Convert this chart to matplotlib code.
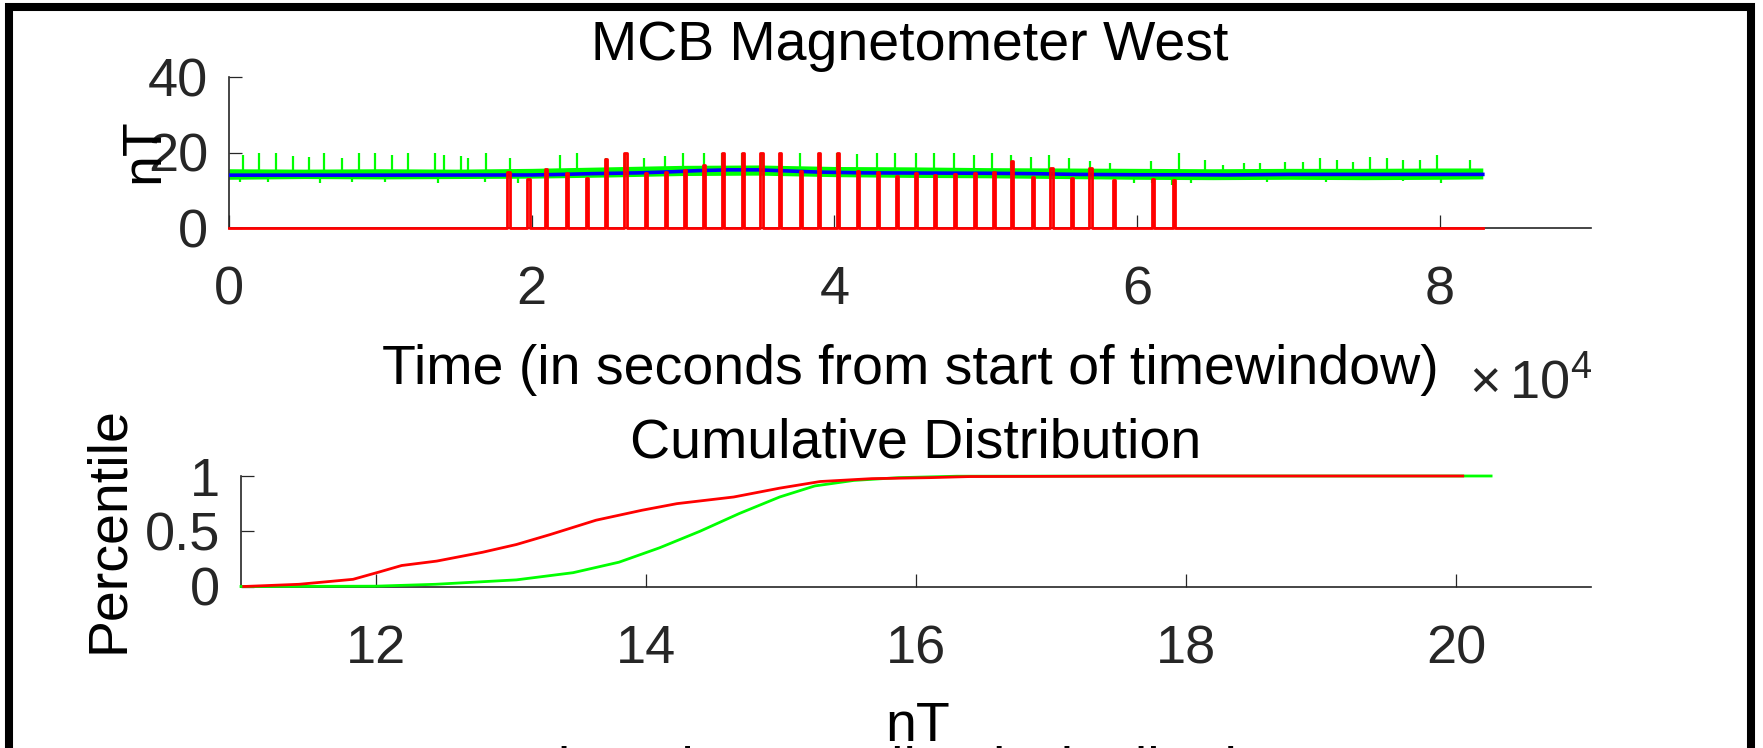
import matplotlib
matplotlib.use("Agg")
import matplotlib.pyplot as plt
from matplotlib.patches import Rectangle

plt.rcParams['font.family'] = ['Liberation Sans', 'DejaVu Sans']
plt.rcParams['mathtext.fontset'] = 'custom'
plt.rcParams['mathtext.rm'] = 'Liberation Sans'

# ---- top panel: magnetometer field (time in seconds, field in nT) ----
record_end = 82850.0

trend_t = [0, 10000, 20000, 22000, 24000, 27000, 29000, 31000, 33000, 35000, 37000,
           39000, 42000, 46000, 50000, 53000, 56000, 60000, 63000, 66000, 70000,
           75000, 80000, 82850]
trend_nt = [14.0, 14.0, 14.05, 14.2, 14.4, 14.6, 14.85, 15.2, 15.4, 15.4, 15.1,
            14.8, 14.6, 14.55, 14.5, 14.4, 14.2, 14.1, 14.1, 14.05, 14.2,
            14.2, 14.2, 14.2]

band_t = [0, 5000, 10000, 15000, 20000, 25000, 30000, 35000, 40000, 45000,
          50000, 55000, 60000, 65000, 70000, 75000, 80000, 82850]
band_hi = [15.7, 15.6, 15.7, 15.6, 15.8, 16.2, 16.6, 16.7, 16.3, 16.2,
           16.0, 15.9, 15.8, 15.7, 15.8, 15.8, 15.9, 15.9]
band_lo = [12.9, 13.1, 13.0, 13.1, 13.2, 13.5, 13.9, 14.0, 13.6, 13.4,
           13.3, 13.1, 12.9, 12.8, 12.9, 12.8, 12.9, 13.0]

spike_t = [950, 2000, 3100, 4200, 5260, 6300, 7460, 8560, 9650, 10760, 11800,
           13600, 14200, 15300, 15800, 17000, 18600, 21900, 23000, 24900, 26200,
           27400, 28800, 30000, 31400, 32600, 33900, 35200, 36400, 37700, 39000,
           40200, 41500, 42800, 44000, 45400, 46600, 47900, 49200, 50400, 51700,
           53000, 54200, 55500, 56900, 58200, 60900, 62800, 64500, 65700, 67100,
           68100, 69800, 71000, 72100, 73200, 74300, 75400, 76500, 77600, 78700,
           79800, 82000]
spike_nt = [19.3, 20.0, 19.8, 19.2, 18.9, 19.8, 18.6, 20.0, 19.8, 19.3, 20.0,
            20.0, 19.3, 19.2, 18.5, 20.0, 18.6, 19.3, 20.0, 18.5, 20.0,
            18.5, 19.1, 19.8, 19.8, 20.0, 19.8, 20.0, 20.0, 19.8, 20.0,
            20.0, 19.5, 20.0, 20.0, 19.8, 19.8, 20.0, 19.3, 20.0, 19.3,
            18.9, 19.3, 18.5, 17.7, 17.1, 17.7, 20.0, 18.0, 16.7, 17.1,
            17.1, 17.4, 17.6, 18.5, 18.0, 17.6, 18.9, 18.5, 18.0, 18.0,
            19.3, 18.0]

dip_t = [730, 2600, 6000, 8100, 10300, 13800, 16900, 19100, 37800, 55700,
         59800, 61000, 62300, 63600, 66200, 68600, 72500, 77600, 80100]
dip_nt = [12.3, 12.3, 12.0, 12.3, 12.3, 11.8, 12.3, 12.0, 12.7, 11.8,
          11.8, 11.8, 11.4, 12.0, 12.7, 12.3, 12.3, 12.5, 12.0]

event_t = [18470, 19790, 20940, 22330, 23650, 24930, 26200, 27550, 28870, 30150,
           31400, 32640, 33940, 35190, 36430, 37770, 39010, 40250, 41590, 42860,
           44150, 45400, 46680, 48000, 49280, 50530, 51750, 53110, 54350, 55710,
           56930, 58470, 61040, 62430]
event_nt = [14.9, 12.9, 15.5, 14.6, 13.2, 18.3, 19.9, 14.5, 14.9, 15.4,
            16.7, 19.9, 19.9, 19.9, 19.9, 15.0, 19.9, 19.9, 15.0, 14.9,
            13.8, 14.5, 14.0, 14.2, 14.6, 14.9, 17.8, 13.6, 15.8, 13.2,
            15.8, 12.7, 12.9, 12.6]

top_xticks = [0, 20000, 40000, 60000, 80000]
top_xtick_labels = ['0', '2', '4', '6', '8']
top_yticks = [0, 20, 40]

# ---- bottom panel: cumulative distributions ----
green_cdf_x = [11.0, 12.0, 12.44, 13.04, 13.46, 13.80, 14.10, 14.40, 14.69, 14.99,
               15.25, 15.54, 15.87, 16.3, 18.0, 20.26]
green_cdf_y = [0.0, 0.003, 0.02, 0.06, 0.125, 0.22, 0.35, 0.50, 0.66, 0.81,
               0.91, 0.96, 0.985, 0.998, 1.0, 1.0]
red_cdf_x = [11.02, 11.43, 11.83, 12.02, 12.19, 12.45, 12.79, 13.04, 13.29, 13.63,
             13.97, 14.23, 14.65, 14.99, 15.29, 15.67, 16.1, 16.4, 18.0, 20.05]
red_cdf_y = [0.0, 0.02, 0.065, 0.13, 0.19, 0.23, 0.31, 0.38, 0.47, 0.60,
             0.69, 0.75, 0.81, 0.89, 0.95, 0.976, 0.985, 0.995, 1.0, 1.0]

bot_xticks = [12, 14, 16, 18, 20]
bot_yticks = [0, 0.5, 1]
bot_ytick_labels = ['0', '0.5', '1']

W, H = 1763, 748
fig = plt.figure(figsize=(W / 100, H / 100), dpi=100)
fig.patch.set_facecolor('white')

AX_COL = '#262626'
GREEN = '#00ff00'
BLUE = '#0000ff'
RED = '#ff0000'
TICK_FS = 39
LAB_FS = 40


def style_axes(ax):
    for s in ['top', 'right']:
        ax.spines[s].set_visible(False)
    for s in ['left', 'bottom']:
        ax.spines[s].set_color(AX_COL)
        ax.spines[s].set_linewidth(1.2)
    ax.tick_params(direction='in', length=9.4, width=0.9, color=AX_COL,
                   labelcolor=AX_COL, labelsize=TICK_FS)
    ax.tick_params(axis='x', pad=27)
    ax.tick_params(axis='y', pad=15)
    ax.set_facecolor('none')


# top axes
ax1 = fig.add_axes([229 / W, 1 - 228 / H, 1362 / W, 151 / H])
style_axes(ax1)
ax1.fill_between(band_t, band_lo, band_hi, color=GREEN, lw=0, zorder=2)
ax1.vlines(spike_t, 15.0, spike_nt, color=GREEN, lw=1.6, zorder=2)
ax1.vlines(dip_t, 13.5, dip_nt, color=GREEN, lw=1.6, zorder=2)
ax1.plot(trend_t, trend_nt, color=BLUE, lw=2.6, zorder=3)

ev_x = [0.0]
ev_y = [0.0]
for t, v in zip(event_t, event_nt):
    ev_x += [t - 70, t - 70, t + 70, t + 70]
    ev_y += [0, v, v, 0]
ev_x.append(record_end)
ev_y.append(0.0)
ax1.plot(ev_x, ev_y, color=RED, lw=2.0, zorder=4, clip_on=False)

ax1.set_xlim(0, 90000)
ax1.set_ylim(0, 40)
ax1.set_xticks(top_xticks)
ax1.set_xticklabels(top_xtick_labels)
ax1.set_yticks(top_yticks)

# bottom axes
ax2 = fig.add_axes([241 / W, 1 - 586.5 / H, 1350 / W, 110.5 / H])
style_axes(ax2)
ax2.plot(green_cdf_x, green_cdf_y, color=GREEN, lw=2.0, clip_on=False, zorder=3)
ax2.plot(red_cdf_x, red_cdf_y, color=RED, lw=2.0, clip_on=False, zorder=4)
ax2.set_xlim(11, 21)
ax2.set_ylim(0, 1)
ax2.set_xticks(bot_xticks)
ax2.set_yticks(bot_yticks)
ax2.set_yticklabels(bot_ytick_labels)

# titles and labels placed like the MATLAB layout
fig.text(910 / W, 1 - 60 / H, 'MCB Magnetometer West', ha='center', va='baseline',
         fontsize=LAB_FS, color='black')
fig.text(910 / W, 1 - 384 / H, 'Time (in seconds from start of timewindow)',
         ha='center', va='baseline', fontsize=LAB_FS, color='black')
fig.text(1469 / W, 1 - 398 / H, r'$\times\,10^{4}$', ha='left', va='baseline',
         fontsize=TICK_FS, color=AX_COL)
fig.text(158 / W, 1 - 151 / H, 'nT', rotation=90, rotation_mode='anchor',
         ha='center', va='baseline', fontsize=LAB_FS, color='black')

fig.text(916 / W, 1 - 458 / H, 'Cumulative Distribution', ha='center', va='baseline',
         fontsize=LAB_FS, color='black')
fig.text(123 / W, 1 - 530 / H, 'Percentile', rotation=90, rotation_mode='anchor',
         ha='center', va='baseline', fontsize=LAB_FS, color='black')
fig.text(918 / W, 1 - 741 / H, 'nT', ha='center', va='baseline',
         fontsize=LAB_FS, color='black')
fig.text(910 / W, 1 - 786 / H, 'Binned, Normalized Distribution', ha='center',
         va='baseline', fontsize=LAB_FS, color='black')

# thick figure frame
fig.add_artist(Rectangle((9 / W, 1 - 751 / H), 1742 / W, 743.5 / H,
                         transform=fig.transFigure, fill=False, ec='black',
                         lw=5.8, clip_on=False))

fig.savefig('out.png', dpi=100)
